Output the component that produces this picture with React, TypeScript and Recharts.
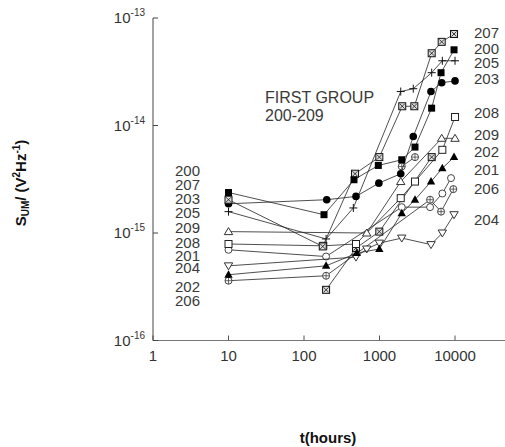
import React from 'react';
import { ScatterChart, Scatter, XAxis, YAxis } from 'recharts';

// ---- axis ticks ----
const xTicks = [1, 10, 100, 1000, 10000];
const xTickLabels = ['1', '10', '100', '1000', '10000'];
const yTicks = [1e-16, 1e-15, 1e-14, 1e-13];
const yTickExponents = ['-16', '-15', '-14', '-13'];

// ---- series: [t (hours), S_UM (V^2/Hz)] ----
type P = [number, number];
const s200: P[] = [[10, 2.38e-15], [184, 1.48e-15], [459, 3.13e-15], [964, 4.25e-15], [1970, 4.8e-15], [2950, 6.3e-15], [4900, 1.45e-14], [6530, 3.1e-14], [9700, 5.06e-14]];
const s207: P[] = [[10, 2.04e-15], [177, 7.5e-16], [474, 3.56e-15], [994, 5.08e-15], [2000, 1.51e-14], [2890, 1.51e-14], [4910, 4.7e-14], [6660, 6.0e-14], [9700, 7.1e-14]];
const s203: P[] = [[10, 1.87e-15], [200, 2.04e-15], [488, 2.19e-15], [980, 2.91e-15], [1910, 3.56e-15], [2800, 7.9e-15], [4800, 2.07e-14], [6660, 2.5e-14], [10000, 2.6e-14]];
const s205: P[] = [[10, 1.58e-15], [196, 8.8e-16], [450, 1.71e-15], [1910, 2.07e-14], [2800, 2.2e-14], [4910, 3.1e-14], [6790, 4.0e-14], [10000, 4.0e-14]];
const s209: P[] = [[10, 1.03e-15], [677, 1.0e-15], [1910, 3.01e-15], [6660, 7.6e-15], [10000, 7.6e-15]];
const s208: P[] = [[10, 7.9e-16], [180, 7.6e-16], [488, 7.9e-16], [1910, 2.11e-15], [2950, 3.01e-15], [6790, 5.94e-15], [10000, 1.2e-14]];
const s201: P[] = [[10, 4.09e-16], [196, 4.95e-16], [500, 6.5e-16], [994, 7.1e-16], [1970, 1.53e-15], [2950, 2.04e-15], [4810, 3.01e-15], [6790, 4.0e-15], [9700, 5.08e-15]];
const s202: P[] = [[10, 6.98e-16], [196, 6.04e-16], [1970, 1.74e-15], [4670, 1.74e-15], [6790, 2.33e-15], [8850, 3.24e-15]];
const s206: P[] = [[10, 3.6e-16], [196, 4.0e-16], [4670, 2.04e-15], [6530, 1.58e-15], [9490, 2.56e-15]];
const s206b: P[] = [[1970, 4.16e-15], [2950, 5.08e-15]];
const s204: P[] = [[10, 4.95e-16], [488, 5.97e-16], [677, 7.1e-16], [994, 8.05e-16], [1970, 8.97e-16], [4810, 7.8e-16], [6790, 1.0e-15], [9700, 1.48e-15]];
const s207b: P[] = [[196, 2.96e-16], [488, 7.24e-16], [994, 1.03e-15], [4910, 5.08e-15]];

// ---- text labels ----
const leftLabels = ['200', '207', '203', '205', '209', '208', '201', '204', '202', '206'];
const rightLabels = ['207', '200', '205', '203', '208', '209', '202', '201', '206', '204'];
const groupTitle = ['FIRST GROUP', '200-209'];

const leftLabelY = [170, 184, 198, 212, 227, 242, 255, 267, 286, 300];
const rightLabelY = [32, 48, 62, 78, 112, 134, 151, 169, 188, 219];

type Kind = 'fsq' | 'xsq' | 'fci' | 'plus' | 'otri' | 'osq' | 'ftri' | 'oci' | 'cci' | 'dtri';

const series: { key: string; data: P[]; kind: Kind }[] = [
  { key: '207b', data: s207b, kind: 'xsq' },
  { key: '206', data: s206, kind: 'cci' },
  { key: '206b', data: s206b, kind: 'cci' },
  { key: '202', data: s202, kind: 'oci' },
  { key: '204', data: s204, kind: 'dtri' },
  { key: '201', data: s201, kind: 'ftri' },
  { key: '208', data: s208, kind: 'osq' },
  { key: '209', data: s209, kind: 'otri' },
  { key: '205', data: s205, kind: 'plus' },
  { key: '203', data: s203, kind: 'fci' },
  { key: '207', data: s207, kind: 'xsq' },
  { key: '200', data: s200, kind: 'fsq' },
];

const FONT = '"Liberation Sans", Arial, sans-serif';

function Marker(props: any) {
  const { cx, cy, kind } = props;
  if (cx == null || cy == null || isNaN(cx) || isNaN(cy)) return null;
  const s = 3.5;
  switch (kind as Kind) {
    case 'fsq':
      return <rect x={cx - s} y={cy - s} width={2 * s} height={2 * s} fill="#000" />;
    case 'xsq':
      return (
        <g>
          <rect x={cx - s} y={cy - s} width={2 * s} height={2 * s} fill="#ddd" stroke="#111" strokeWidth={1} />
          <path d={`M${cx - s + 1} ${cy - s + 1}L${cx + s - 1} ${cy + s - 1}M${cx + s - 1} ${cy - s + 1}L${cx - s + 1} ${cy + s - 1}`} stroke="#111" strokeWidth={0.8} />
        </g>
      );
    case 'osq':
      return <rect x={cx - s} y={cy - s} width={2 * s} height={2 * s} fill="#fff" stroke="#222" strokeWidth={1} />;
    case 'fci':
      return <circle cx={cx} cy={cy} r={3.8} fill="#000" />;
    case 'oci':
      return <circle cx={cx} cy={cy} r={3.5} fill="#fff" stroke="#444" strokeWidth={1} />;
    case 'cci':
      return (
        <g>
          <circle cx={cx} cy={cy} r={3.5} fill="#fff" stroke="#444" strokeWidth={1} />
          <path d={`M${cx - 3.5} ${cy}L${cx + 3.5} ${cy}M${cx} ${cy - 3.5}L${cx} ${cy + 3.5}`} stroke="#444" strokeWidth={0.8} />
        </g>
      );
    case 'plus':
      return <path d={`M${cx - 4} ${cy}L${cx + 4} ${cy}M${cx} ${cy - 4}L${cx} ${cy + 4}`} stroke="#111" strokeWidth={1} />;
    case 'otri':
      return <path d={`M${cx} ${cy - 4}L${cx + 4.2} ${cy + 3}L${cx - 4.2} ${cy + 3}Z`} fill="#fff" stroke="#333" strokeWidth={1} />;
    case 'ftri':
      return <path d={`M${cx} ${cy - 4.5}L${cx + 4.2} ${cy + 3}L${cx - 4.2} ${cy + 3}Z`} fill="#000" />;
    case 'dtri':
      return <path d={`M${cx} ${cy + 4}L${cx + 4.2} ${cy - 3}L${cx - 4.2} ${cy - 3}Z`} fill="#fff" stroke="#333" strokeWidth={1} />;
  }
  return null;
}

function XTick(props: any) {
  const { x, y, payload } = props;
  const i = xTicks.indexOf(payload.value);
  return (
    <text x={x} y={y + 11} textAnchor="middle" fontSize={15} fontFamily={FONT} fill="#333">
      {xTickLabels[i] ?? payload.value}
    </text>
  );
}

function YTick(props: any) {
  const { x, y, payload } = props;
  const i = yTicks.findIndex((v) => Math.abs(Math.log10(v) - Math.log10(payload.value)) < 1e-6);
  return (
    <text x={x} y={y + 5} textAnchor="end" fontSize={15} fontFamily={FONT} fill="#333">
      10<tspan fontSize={10} dy={-7}>{yTickExponents[i]}</tspan>
    </text>
  );
}

export default function App() {
  return (
    <div style={{ position: 'absolute', left: 0, top: 0, width: 505, height: 447, overflow: 'hidden', background: '#fff' }}>
      <ScatterChart width={520} height={447} margin={{ top: 18, right: 12.2, left: 0, bottom: 76.5 }}>
        <XAxis
          xAxisId="top"
          orientation="top"
          type="number"
          dataKey="t"
          scale="log"
          domain={[1, 50000]}
          ticks={xTicks}
          allowDataOverflow
          height={0}
          tick={false}
          tickSize={-5}
          stroke="#111"
          axisLine={{ stroke: '#111' }}
          tickLine={{ stroke: '#444' }}
        />
        <XAxis
          type="number"
          dataKey="t"
          scale="log"
          domain={[1, 50000]}
          ticks={xTicks}
          allowDataOverflow
          height={30}
          tickSize={-5}
          tickMargin={14}
          tick={<XTick />}
          axisLine={{ stroke: '#777' }}
          tickLine={{ stroke: '#555' }}
        />
        <YAxis
          type="number"
          dataKey="v"
          scale="log"
          domain={[1e-16, 1e-13]}
          ticks={yTicks}
          allowDataOverflow
          width={153}
          tickSize={-5}
          tickMargin={13}
          tick={<YTick />}
          axisLine={{ stroke: '#444' }}
          tickLine={{ stroke: '#444' }}
        />
        <YAxis
          yAxisId="right"
          orientation="right"
          type="number"
          dataKey="v"
          scale="log"
          domain={[1e-16, 1e-13]}
          ticks={yTicks}
          allowDataOverflow
          width={0}
          tick={false}
          tickSize={-5}
          axisLine={{ stroke: '#444' }}
          tickLine={{ stroke: '#444' }}
        />
        {series.map((s) => (
          <Scatter
            key={s.key}
            data={s.data.map(([t, v]) => ({ t, v }))}
            fill="#222"
            line={{ stroke: '#222', strokeWidth: 0.8 }}
            lineType="joint"
            isAnimationActive={false}
            shape={(p: any) => <Marker {...p} kind={s.kind} />}
          />
        ))}
      </ScatterChart>
      <svg width={505} height={447} style={{ position: 'absolute', left: 0, top: 0, pointerEvents: 'none' }}>
        <g fontFamily={FONT} fontSize={15} fill="#3a3a3a">
          {leftLabels.map((l, i) => (
            <text key={'l' + i} x={175} y={leftLabelY[i] + 5.5}>{l}</text>
          ))}
          {rightLabels.map((l, i) => (
            <text key={'r' + i} x={474} y={rightLabelY[i] + 5.5}>{l}</text>
          ))}
          <text x={265} y={103} fontSize={16}>{groupTitle[0]}</text>
          <text x={265} y={121} fontSize={16}>{groupTitle[1]}</text>
        </g>
        <text x={328} y={443} textAnchor="middle" fontFamily={FONT} fontSize={15} fontWeight="bold" fill="#111">t(hours)</text>
        <text transform="translate(26,183) rotate(-90)" textAnchor="middle" fontFamily={FONT} fontSize={15} fontWeight="bold" fill="#111">
          S<tspan fontSize={10} dy={3}>UM</tspan><tspan dy={-3}>/ (V</tspan><tspan fontSize={10} dy={-6}>2</tspan><tspan dy={6}>Hz</tspan><tspan fontSize={10} dy={-6}>-1</tspan><tspan dy={6}>)</tspan>
        </text>
      </svg>
    </div>
  );
}
